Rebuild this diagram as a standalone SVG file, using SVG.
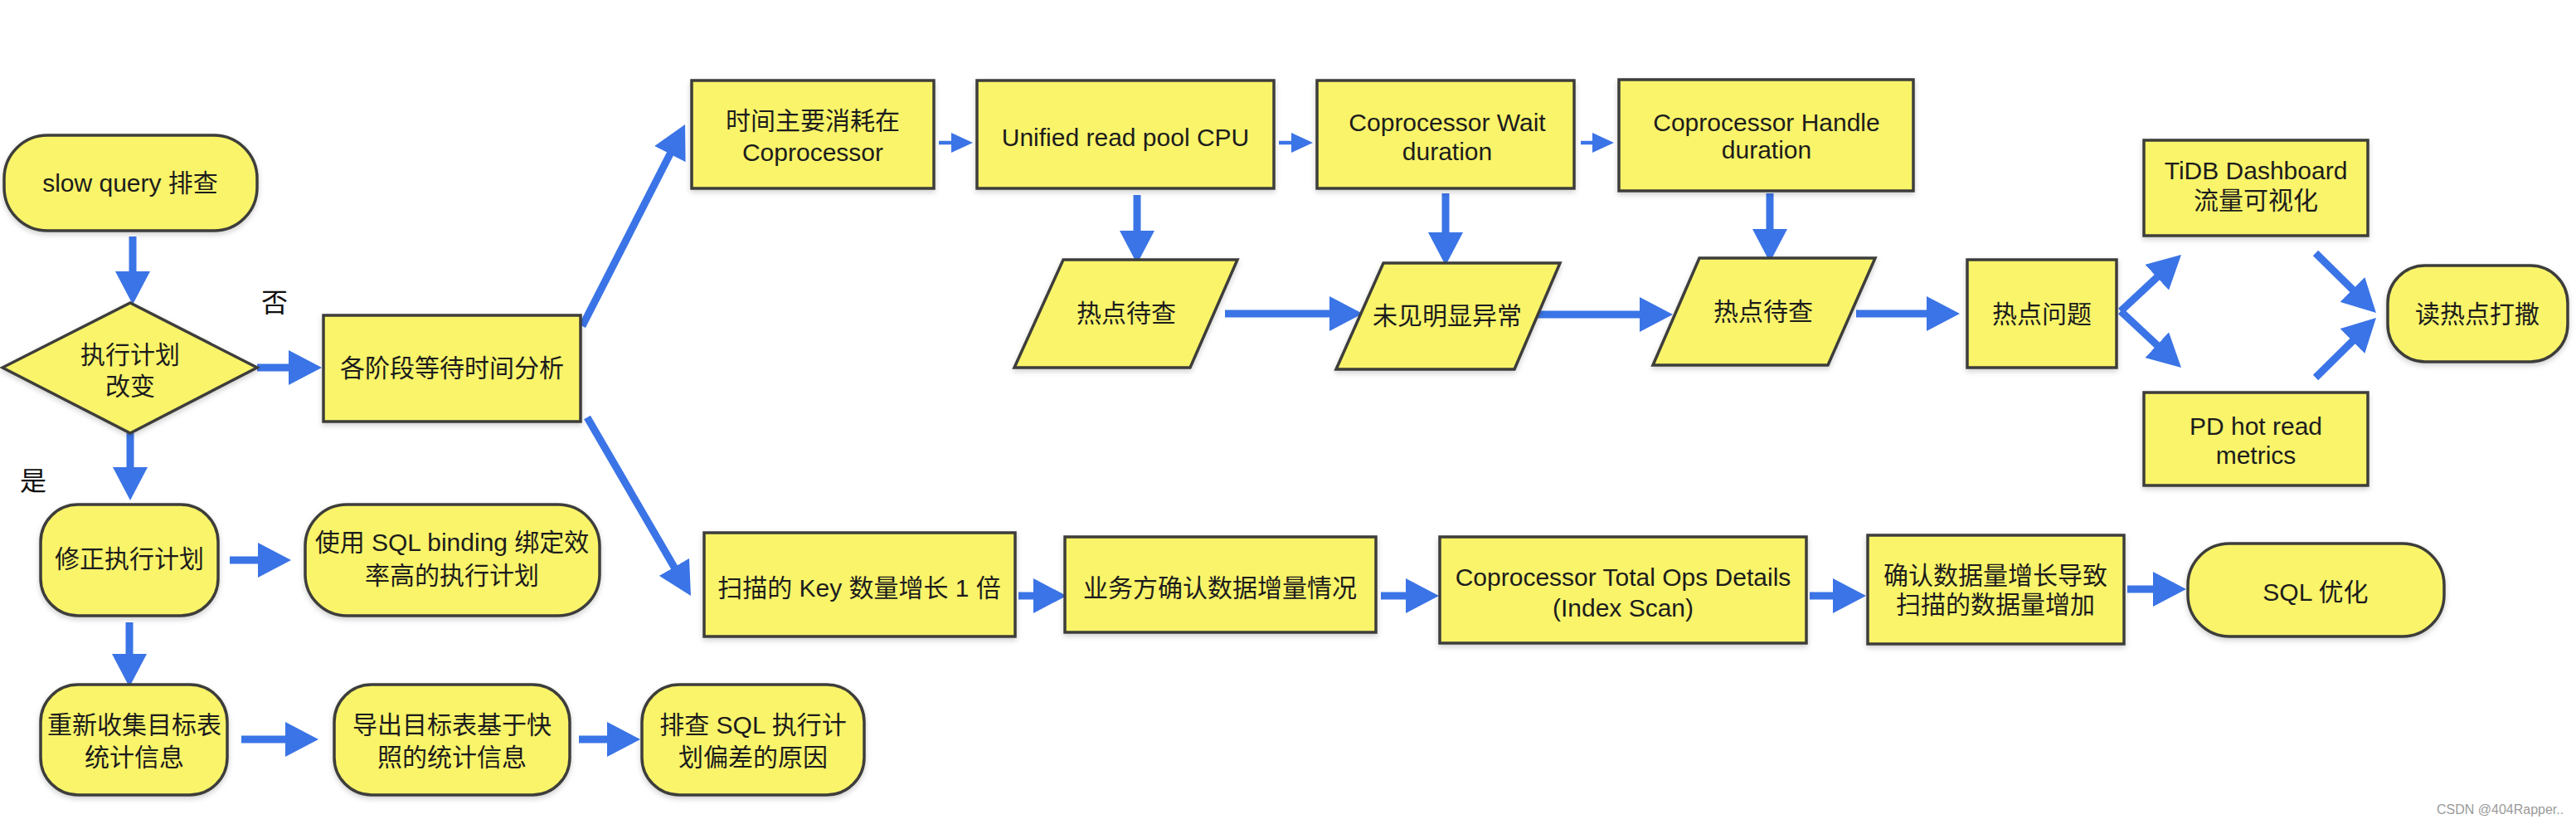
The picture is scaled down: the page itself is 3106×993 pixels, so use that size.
<svg xmlns="http://www.w3.org/2000/svg" width="3106" height="993" viewBox="0 0 3106 993">
<defs>
<style>
.n{fill:#F9F46A;stroke:#3e3e3a;stroke-width:3.5;filter:url(#sh)}
.t{font-family:"Liberation Sans","Noto Sans CJK SC",sans-serif;font-size:30px;fill:#1c1c1c;text-anchor:middle;dominant-baseline:central}
.lbl{font-family:"Liberation Sans","Noto Sans CJK SC",sans-serif;font-size:32px;fill:#111;text-anchor:middle;dominant-baseline:central}
.c{stroke:#3B74E6;stroke-width:9;fill:none;marker-end:url(#ah)}
.cs{stroke:#3B74E6;stroke-width:4.5;fill:none;marker-end:url(#as)}
.wm{font-family:"Liberation Sans",sans-serif;font-size:16px;fill:#9a9a9a}
</style>
<filter id="sh" x="-10%" y="-10%" width="120%" height="130%">
<feDropShadow dx="0" dy="3" stdDeviation="3" flood-color="#000" flood-opacity="0.18"/>
</filter>
<marker id="ah" markerUnits="userSpaceOnUse" viewBox="0 0 40 42" markerWidth="40" markerHeight="42" refX="8" refY="21" orient="auto">
<path d="M0,0 L40,21 L0,42 z" fill="#3B74E6"/>
</marker>
<marker id="as" markerUnits="userSpaceOnUse" viewBox="0 0 26 24" markerWidth="26" markerHeight="24" refX="6" refY="12" orient="auto">
<path d="M0,0 L26,12 L0,24 z" fill="#3B74E6"/>
</marker>
</defs>
<rect width="3106" height="993" fill="#ffffff"/>

<g id="connectors">
<line class="c" x1="160" y1="285" x2="160" y2="335"/>
<line class="c" x1="310" y1="443" x2="356" y2="443"/>
<line class="c" x1="157" y1="522" x2="157" y2="571"/>
<line class="c" x1="277" y1="675" x2="319" y2="675"/>
<line class="c" x1="156" y1="750" x2="156" y2="796"/>
<line class="c" x1="291" y1="891" x2="352" y2="891"/>
<line class="c" x1="698" y1="891" x2="740" y2="891"/>
<line class="c" x1="702" y1="393" x2="811.5" y2="178.5"/>
<line class="c" x1="708" y1="503" x2="816.9" y2="690.3"/>
<line class="cs" x1="1132" y1="172" x2="1153" y2="172"/>
<line class="cs" x1="1542" y1="172" x2="1563" y2="172"/>
<line class="cs" x1="1906" y1="172" x2="1926" y2="172"/>
<line class="c" x1="1371" y1="235" x2="1371" y2="286"/>
<line class="c" x1="1743" y1="233" x2="1743" y2="288"/>
<line class="c" x1="2134" y1="233" x2="2134" y2="284"/>
<line class="c" x1="1477" y1="378" x2="1611" y2="378"/>
<line class="c" x1="1850" y1="379" x2="1985" y2="379"/>
<line class="c" x1="2238" y1="378" x2="2331" y2="378"/>
<line class="c" x1="2557" y1="375" x2="2606.6" y2="328.8"/>
<line class="c" x1="2557" y1="375" x2="2606.6" y2="421.2"/>
<line class="c" x1="2792" y1="305" x2="2842.2" y2="354.5"/>
<line class="c" x1="2792" y1="455" x2="2842.2" y2="405.5"/>
<line class="c" x1="1228" y1="718" x2="1254" y2="718"/>
<line class="c" x1="1665" y1="718" x2="1703" y2="718"/>
<line class="c" x1="2182" y1="718" x2="2218" y2="718"/>
<line class="c" x1="2565" y1="710" x2="2604" y2="710"/>
</g>

<g id="slow-query"><rect class="n" x="5" y="163" width="305" height="115" rx="52"/><text class="t" x="157" y="220">slow query 排查</text></g>
<g id="plan-changed"><polygon class="n" points="3,443 157,365 310,443 157,522"/><text class="t" x="157" y="427">执行计划</text><text class="t" x="157" y="465">改变</text></g>
<g id="label-no"><text class="lbl" x="331" y="365">否</text></g>
<g id="label-yes"><text class="lbl" x="40" y="580">是</text></g>
<g id="stage-wait"><rect class="n" x="390" y="380" width="310" height="128"/><text class="t" x="545" y="443">各阶段等待时间分析</text></g>

<g id="fix-plan"><rect class="n" x="49" y="608" width="214" height="134" rx="45"/><text class="t" x="156" y="673">修正执行计划</text></g>
<g id="sql-binding"><rect class="n" x="368" y="608" width="355" height="134" rx="50"/><text class="t" x="545" y="653">使用 SQL binding 绑定效</text><text class="t" x="545" y="693">率高的执行计划</text></g>
<g id="recollect-stats"><rect class="n" x="49" y="825" width="225" height="133" rx="45"/><text class="t" x="162" y="873">重新收集目标表</text><text class="t" x="162" y="912">统计信息</text></g>
<g id="export-stats"><rect class="n" x="403" y="825" width="284" height="133" rx="45"/><text class="t" x="545" y="873">导出目标表基于快</text><text class="t" x="545" y="912">照的统计信息</text></g>
<g id="check-deviation"><rect class="n" x="774" y="825" width="268" height="133" rx="45"/><text class="t" x="908" y="873">排查 SQL 执行计</text><text class="t" x="908" y="912">划偏差的原因</text></g>

<g id="coprocessor-time"><rect class="n" x="834" y="97" width="292" height="130"/><text class="t" x="980" y="145">时间主要消耗在</text><text class="t" x="980" y="183">Coprocessor</text></g>
<g id="unified-cpu"><rect class="n" x="1178" y="97" width="358" height="130"/><text class="t" x="1357" y="165">Unified read pool CPU</text></g>
<g id="wait-duration"><rect class="n" x="1588" y="97" width="310" height="130"/><text class="t" x="1745" y="147">Coprocessor Wait</text><text class="t" x="1745" y="182">duration</text></g>
<g id="handle-duration"><rect class="n" x="1952" y="96" width="355" height="134"/><text class="t" x="2130" y="147">Coprocessor Handle</text><text class="t" x="2130" y="180">duration</text></g>

<g id="hotspot-pending-1"><polygon class="n" points="1282,313 1492,313 1435,443 1223,443"/><text class="t" x="1358" y="377">热点待查</text></g>
<g id="no-anomaly"><polygon class="n" points="1668,317 1881,317 1826,445 1611,445"/><text class="t" x="1745" y="380">未见明显异常</text></g>
<g id="hotspot-pending-2"><polygon class="n" points="2049,311 2261,311 2204,440 1993,440"/><text class="t" x="2126" y="375">热点待查</text></g>
<g id="hotspot-issue"><rect class="n" x="2372" y="313" width="180" height="130"/><text class="t" x="2462" y="378">热点问题</text></g>
<g id="tidb-dashboard"><rect class="n" x="2585" y="169" width="270" height="115"/><text class="t" x="2720" y="205">TiDB Dashboard</text><text class="t" x="2720" y="241">流量可视化</text></g>
<g id="pd-hot-read"><rect class="n" x="2585" y="473" width="270" height="112"/><text class="t" x="2720" y="513">PD hot read</text><text class="t" x="2720" y="548">metrics</text></g>
<g id="scatter-hotspot"><rect class="n" x="2879" y="320" width="217" height="116" rx="45"/><text class="t" x="2987" y="378">读热点打撒</text></g>

<g id="key-scan-double"><rect class="n" x="849" y="642" width="375" height="125"/><text class="t" x="1036" y="708">扫描的 Key 数量增长 1 倍</text></g>
<g id="confirm-growth"><rect class="n" x="1284" y="647" width="375" height="115"/><text class="t" x="1471" y="708">业务方确认数据增量情况</text></g>
<g id="total-ops"><rect class="n" x="1736" y="647" width="442" height="128"/><text class="t" x="1957" y="695">Coprocessor Total Ops Details</text><text class="t" x="1957" y="732">(Index Scan)</text></g>
<g id="scan-increase"><rect class="n" x="2252" y="645" width="309" height="131"/><text class="t" x="2406" y="693">确认数据量增长导致</text><text class="t" x="2406" y="728">扫描的数据量增加</text></g>
<g id="sql-optimize"><rect class="n" x="2638" y="655" width="309" height="112" rx="50"/><text class="t" x="2792" y="713">SQL 优化</text></g>

<text class="wm" x="2938" y="981">CSDN @404Rapper..</text>
</svg>
